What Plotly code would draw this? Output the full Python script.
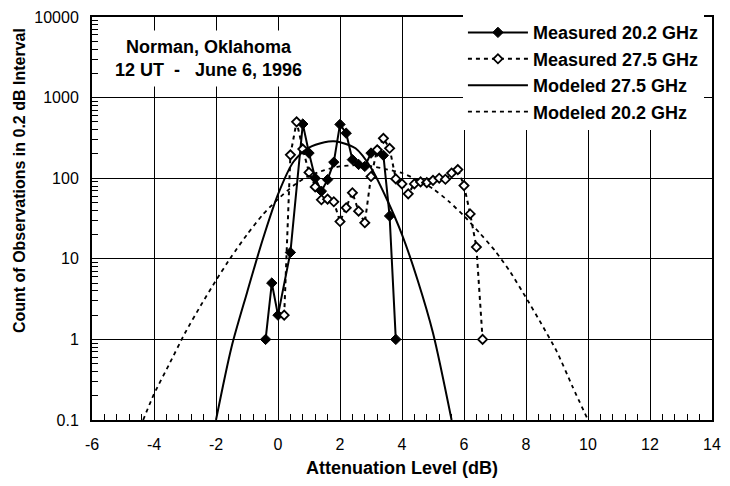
import plotly.graph_objects as go

# Measured 20.2 GHz (filled diamonds)
meas202_x = [-0.4, -0.2, 0.0, 0.4, 0.8, 1.0, 1.2, 1.4, 1.6, 1.8, 2.0, 2.2, 2.4, 2.6, 2.8, 3.0, 3.2, 3.4, 3.6, 3.8]
meas202_y = [1, 5, 2, 12, 470, 205, 100, 69, 96, 158, 465, 362, 170, 148, 140, 205, 215, 192, 34, 1]

# Measured 27.5 GHz (open diamonds)
meas275_x = [0.2, 0.4, 0.6, 0.8, 1.0, 1.2, 1.4, 1.6, 1.8, 2.0, 2.2, 2.4, 2.6, 2.8, 3.0, 3.2, 3.4, 3.6,
             3.8, 4.0, 4.2, 4.4, 4.6, 4.8, 5.0, 5.2, 5.4, 5.6, 5.8, 6.0, 6.2, 6.4, 6.6]
meas275_y = [2, 195, 500, 230, 118, 78, 54, 55, 51, 29, 43, 66, 39, 28, 105, 225, 312, 235,
             98, 85, 64, 85, 90, 88, 94, 100, 97, 116, 128, 81, 36, 14, 1]

# Modeled 27.5 GHz (solid curve)
mod275_x = [-2.0, -1.5, -1.0, -0.5, 0.0, 0.5, 1.0, 1.5, 1.8, 2.0, 2.5, 3.0, 3.5, 4.0, 4.5, 5.0, 5.6]
mod275_y = [0.1, 0.8, 3.8, 17, 63, 160, 240, 280, 287, 280, 235, 135, 56, 20, 5.5, 1.2, 0.1]

# Modeled 20.2 GHz (dashed curve)
mod202_x = [-4.35, -4.0, -3.5, -3.0, -2.5, -2.0, -1.5, -1.0, -0.5, 0.0, 0.5, 1.0, 1.5, 2.0, 2.5, 3.0,
            3.5, 4.0, 4.5, 5.0, 5.5, 6.0, 6.5, 7.0, 7.5, 8.0, 8.5, 9.0, 9.5, 10.0]
mod202_y = [0.1, 0.21, 0.5, 1.2, 2.6, 5.4, 10.7, 20, 35, 55, 81, 107, 126, 140, 145, 141,
            129, 116, 95, 74, 52, 34, 21, 12.6, 6.8, 3.3, 1.55, 0.7, 0.26, 0.1]

y_tickvals = [0.1, 1, 10, 100, 1000, 10000]
y_ticktext = ["0.1", "1", "10", "100", "1000", "10000"]
x_tickvals = [-6, -4, -2, 0, 2, 4, 6, 8, 10, 12, 14]
x_ticktext = ["-6", "-4", "-2", "0", "2", "4", "6", "8", "10", "12", "14"]

# minor tick positions (axis decoration)
x_minor = [round(-6 + 0.4 * i, 2) for i in range(51)]
y_minor = [m * 10 ** e for e in range(-1, 4) for m in range(2, 10)]

FONT = "Liberation Sans, Arial, Helvetica, sans-serif"

fig = go.Figure()

fig.add_trace(go.Scatter(
    x=meas202_x, y=meas202_y, mode="lines+markers", name="Measured 20.2 GHz",
    line=dict(color="black", width=2),
    marker=dict(symbol="diamond", size=8, color="black", line=dict(color="black", width=1)),
))
fig.add_trace(go.Scatter(
    x=meas275_x, y=meas275_y, mode="lines+markers", name="Measured 27.5 GHz",
    line=dict(color="black", width=2, dash="4px,4px"),
    marker=dict(symbol="diamond", size=7, color="white", line=dict(color="black", width=1.8)),
))
fig.add_trace(go.Scatter(
    x=mod275_x, y=mod275_y, mode="lines", name="Modeled 27.5 GHz",
    line=dict(color="black", width=2, shape="spline", smoothing=0.8),
))
fig.add_trace(go.Scatter(
    x=mod202_x, y=mod202_y, mode="lines", name="Modeled 20.2 GHz",
    line=dict(color="black", width=1.8, dash="4px,4px", shape="spline", smoothing=0.6),
))

fig.update_layout(
    width=730, height=486,
    margin=dict(l=92, r=9, t=15, b=66),
    paper_bgcolor="white", plot_bgcolor="white",
    font=dict(family=FONT, size=16, color="black"),
    showlegend=True,
    legend=dict(
        x=0.987, y=1.007, xanchor="right", yanchor="top",
        bgcolor="white", borderwidth=0,
        font=dict(family=FONT, size=18, color="black", weight="bold"),
        itemwidth=60, tracegroupgap=0,
    ),
    annotations=[
        dict(text="Norman, Oklahoma<br>12 UT  -   June 6, 1996", xref="paper", yref="paper",
             x=0.188, y=0.896, xanchor="center", yanchor="middle", showarrow=False,
             font=dict(family=FONT, size=18, color="black", weight="bold"),
             bgcolor="white", borderpad=6, align="center"),
        dict(text="Count of Observations in 0.2 dB Interval", xref="paper", yref="paper",
             x=-0.118, y=0.595, xanchor="center", yanchor="middle", textangle=-90, showarrow=False,
             font=dict(family=FONT, size=16, color="black", weight="bold")),
        dict(text="Attenuation Level (dB)", xref="paper", yref="paper",
             x=0.5, y=-0.1185, xanchor="center", yanchor="middle", showarrow=False,
             font=dict(family=FONT, size=18, color="black", weight="bold")),
    ],
)

fig.update_xaxes(
    range=[-6, 14], tickvals=x_tickvals, ticktext=x_ticktext, ticks="inside", ticklen=0,
    showgrid=True, gridcolor="black", gridwidth=1,
    showline=True, linecolor="black", linewidth=2, mirror=True,
    zeroline=False, ticklabelstandoff=9, ticklabeloverflow="allow",
    tickfont=dict(family=FONT, size=16, color="black"),
    minor=dict(tickmode="array", tickvals=x_minor, ticks="inside", ticklen=6,
               tickcolor="black", tickwidth=1, showgrid=False),
)
fig.update_yaxes(
    type="log", range=[-1, 4], tickvals=y_tickvals, ticktext=y_ticktext, ticks="inside", ticklen=0,
    showgrid=True, gridcolor="black", gridwidth=1,
    showline=True, linecolor="black", linewidth=2, mirror=True,
    zeroline=False, ticklabelstandoff=8, ticklabeloverflow="allow",
    tickfont=dict(family=FONT, size=16, color="black"),
    minor=dict(tickmode="array", tickvals=y_minor, ticks="inside", ticklen=6,
               tickcolor="black", tickwidth=1, showgrid=False),
)

# remove the page's default body margin so the 730x486 figure fills the window exactly
fig.write_html(
    "out.html",
    config={"displayModeBar": False},
    post_script="document.body.style.margin='0';document.body.style.overflow='hidden';",
)
